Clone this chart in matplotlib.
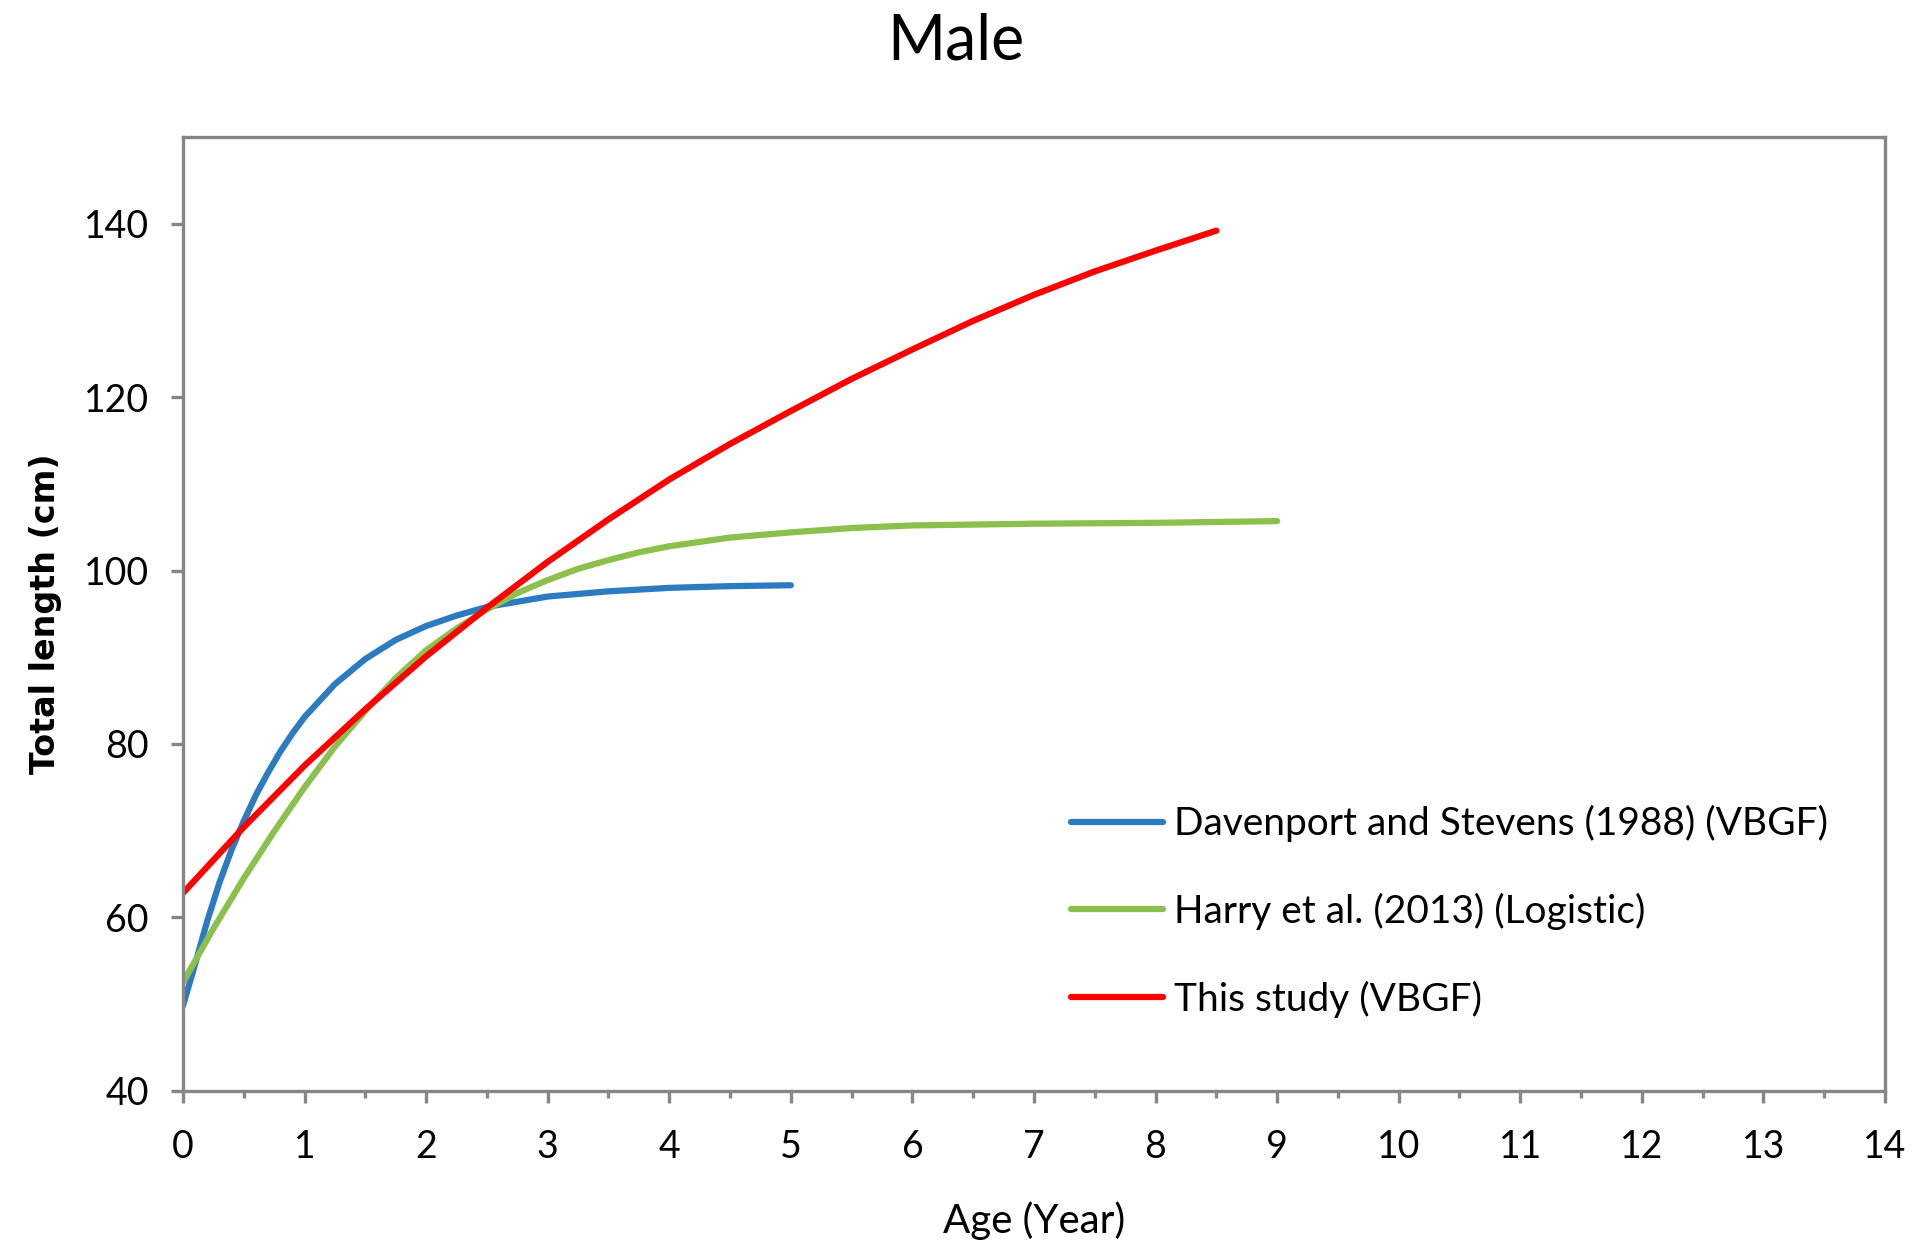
import matplotlib
matplotlib.use("Agg")
import matplotlib.pyplot as plt
from matplotlib.ticker import MultipleLocator

# Curves (age in years, total length in cm)
age_davenport = [0, 0.1, 0.2, 0.3, 0.4, 0.5, 0.6, 0.7, 0.8, 0.9, 1.0, 1.25, 1.5, 1.75,
                 2.0, 2.25, 2.5, 2.75, 3.0, 3.5, 4.0, 4.5, 5.0]
len_davenport = [49.8, 54.6, 59.6, 64.0, 67.8, 71.1, 74.1, 76.7, 79.1, 81.2, 83.1, 86.9,
                 89.8, 92.0, 93.6, 94.8, 95.8, 96.4, 97.0, 97.6, 98.0, 98.2, 98.3]

age_harry = [0, 0.25, 0.5, 0.75, 1.0, 1.25, 1.5, 1.75, 2.0, 2.25, 2.5, 2.75, 3.0,
             3.25, 3.5, 3.75, 4.0, 4.5, 5.0, 5.5, 6.0, 7.0, 8.0, 9.0]
len_harry = [52.5, 58.7, 64.5, 69.9, 75.0, 79.7, 83.8, 87.6, 90.8, 93.3, 95.5, 97.4, 98.9,
             100.2, 101.2, 102.1, 102.8, 103.8, 104.4, 104.9, 105.2, 105.4, 105.5, 105.7]

age_study = [0, 0.5, 1.0, 1.5, 2.0, 2.5, 3.0, 3.5, 4.0, 4.5, 5.0, 5.5, 6.0, 6.5,
             7.0, 7.5, 8.0, 8.5]
len_study = [62.8, 70.4, 77.5, 84.0, 90.1, 95.7, 101.0, 105.9, 110.5, 114.6, 118.4, 122.1,
             125.5, 128.8, 131.8, 134.5, 136.9, 139.2]

labels = ["Davenport and Stevens (1988) (VBGF)",
          "Harry et al. (2013) (Logistic)",
          "This study (VBGF)"]
colors = ["#2b7bc0", "#8cc04c", "#ff0000"]

plt.rcParams['font.family'] = ['Lato', 'DejaVu Sans']
axis_grey = "#868686"

fig = plt.figure(figsize=(19.28, 12.56), dpi=100)
ax = fig.add_axes([0.0949, 0.1316, 0.8828, 0.7593])

ax.plot(age_davenport, len_davenport, color=colors[0], lw=4.5, label=labels[0],
        solid_capstyle='round', solid_joinstyle='round')
ax.plot(age_harry, len_harry, color=colors[1], lw=4.5, label=labels[1],
        solid_capstyle='round', solid_joinstyle='round')
ax.plot(age_study, len_study, color=colors[2], lw=4.5, label=labels[2],
        solid_capstyle='round', solid_joinstyle='round')

ax.set_xlim(0, 14)
ax.set_ylim(40, 150)
ax.set_xticks(range(0, 15))
ax.set_yticks(range(40, 141, 20))
ax.xaxis.set_minor_locator(MultipleLocator(0.5))

for side in ax.spines.values():
    side.set_color(axis_grey)
    side.set_linewidth(2.4)

ax.tick_params(axis='both', which='major', direction='out', length=8.5, width=2.4,
               color=axis_grey, labelsize=27, labelcolor='black')
ax.tick_params(axis='x', which='major', pad=19)
ax.tick_params(axis='y', which='major', pad=16)
ax.tick_params(axis='x', which='minor', direction='out', length=5, width=2.4,
               color=axis_grey)

ax.set_xlabel("Age (Year)", fontsize=29, labelpad=26)
ax.set_ylabel("Total length (cm)", fontsize=24, fontweight='bold',
              family='DejaVu Sans', labelpad=16)

fig.text(0.4957, 0.967, "Male", ha='center', va='center', fontsize=45)

ax.legend(loc='center left', bbox_to_anchor=(0.522, 0.188), frameon=False,
          fontsize=28, handlelength=2.35, handletextpad=0.3, labelspacing=1.3,
          borderpad=0, borderaxespad=0)

fig.savefig("out.png", dpi=100)
